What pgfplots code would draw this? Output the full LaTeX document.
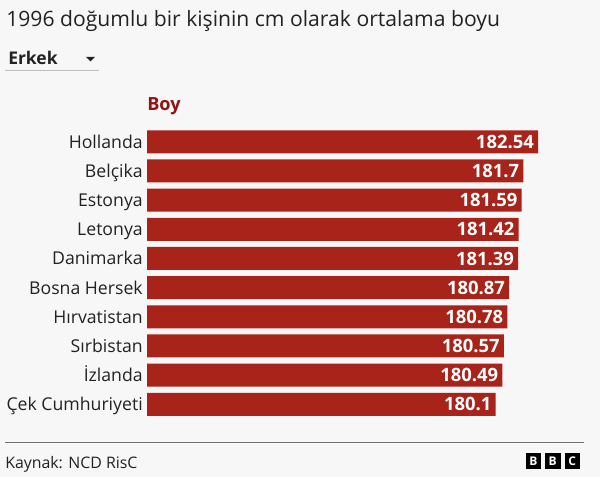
\documentclass[border=0pt]{standalone}
\usepackage{pgfplots}
\usepackage{pgfplotstable}
\usepackage{fontspec}
\setmainfont{Open Sans}
\pgfplotsset{compat=1.18}
\definecolor{bg}{HTML}{F7F7F7}
\definecolor{barred}{HTML}{A8231A}
\definecolor{boyred}{HTML}{8E1510}
\definecolor{txt}{HTML}{222222}
\pgfplotstableread{
y val lab
0 182.54 182.54
1 181.70 181.7
2 181.59 181.59
3 181.42 181.42
4 181.39 181.39
5 180.87 180.87
6 180.78 180.78
7 180.57 180.57
8 180.49 180.49
9 180.10 180.1
}\boydata
\begin{document}
\begin{tikzpicture}[x=0.75pt,y=0.75pt]
\useasboundingbox (0,0) rectangle (600,-477);
\fill[bg] (0,0) rectangle (600,-477);
\node[anchor=base west,inner sep=0,text=txt,font=\fontsize{15.85pt}{18pt}\selectfont] at (6,-27) {1996 doğumlu bir kişinin cm olarak ortalama boyu};
\node[anchor=base west,inner sep=0,text=txt,font=\fontsize{13.1pt}{15pt}\selectfont\bfseries] at (8,-64.5) {Erkek};
\fill[txt] (86,-57) -- (95,-57) -- (90.5,-61.5) -- cycle;
\draw[color=black!25,line width=0.75pt] (5,-70.5) -- (98.5,-70.5);
\node[anchor=base west,inner sep=0,text=boyred,font=\fontsize{13.6pt}{15pt}\selectfont\bfseries] at (147,-111) {Boy};
\begin{axis}[
  at={(110.25pt,-95.4pt)}, anchor=north west,
  scale only axis,
  width=299.25pt, height=218.8pt,
  xmin=160, xmax=183,
  ymin=-0.5, ymax=9.5, y dir=reverse,
  axis lines=none,
  xbar, bar width=17.25pt, bar shift=0pt,
  ytick=data,
  yticklabels={Hollanda,Belçika,Estonya,Letonya,Danimarka,Bosna Hersek,Hırvatistan,Sırbistan,İzlanda,Çek Cumhuriyeti},
  tick style={draw=none},
  hide x axis, 
]
\addplot[draw=none,fill=barred,
  point meta=explicit symbolic,
  nodes near coords,
  nodes near coords style={anchor=east,xshift=-3pt,inner sep=0,text=white,font=\fontsize{13.8pt}{15pt}\selectfont\bfseries}]
  table[x=val,y=y,meta=lab] {\boydata};
\end{axis}
\foreach \n/\t in {0/Hollanda,1/Belçika,2/Estonya,3/Letonya,4/Danimarka,5/Bosna Hersek,6/Hırvatistan,7/Sırbistan,8/İzlanda,9/Çek Cumhuriyeti}
  \node[anchor=base east,inner sep=0,text=txt,font=\fontsize{13.25pt}{15pt}\selectfont] at (143,-148.2-29.17*\n) {\t};
\draw[color=black!55,line width=0.75pt] (5,-442.5) -- (584,-442.5);
\node[anchor=base west,inner sep=0,text=txt,font=\fontsize{11.9pt}{14pt}\selectfont] at (5,-468) {Kaynak: NCD RisC};
\foreach \x/\l in {525.7/B,545/B,564.5/C}{
  \fill[black] (\x,-453) rectangle (\x+15.5,-469);
  \node[text=white,inner sep=0,font=\fontsize{9pt}{10pt}\selectfont\bfseries] at (\x+7.75,-461) {\l};
}
\end{tikzpicture}
\end{document}
